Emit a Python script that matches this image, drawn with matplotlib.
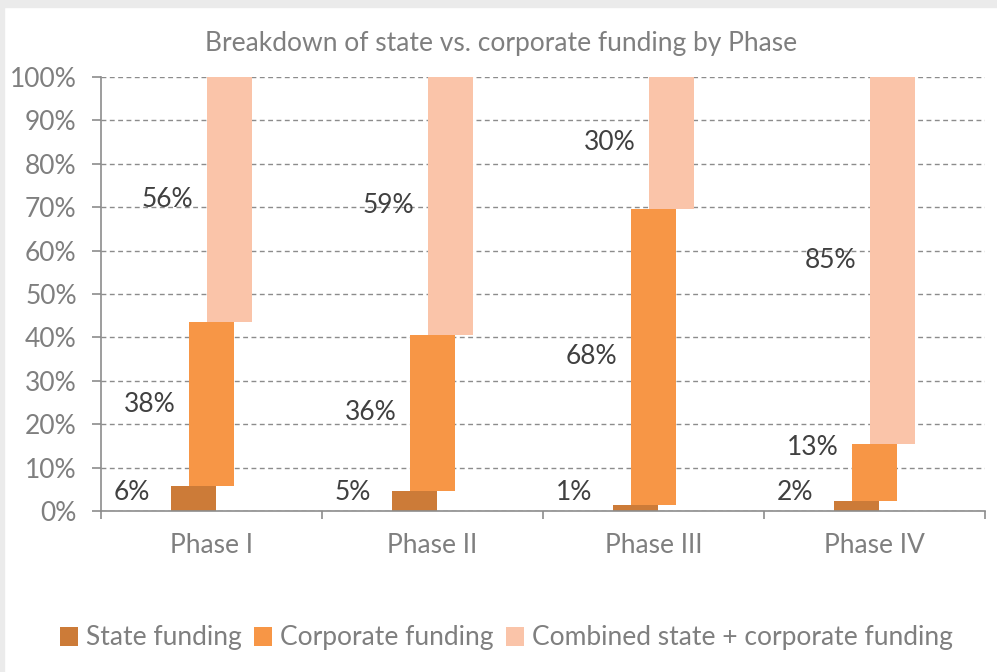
import numpy as np
import matplotlib.pyplot as plt
from matplotlib.patches import Rectangle

# data (percent of total funding per phase)
phases = ["Phase I", "Phase II", "Phase III", "Phase IV"]
state = [5.7, 4.7, 1.4, 2.3]
corporate = [37.9, 35.9, 68.2, 13.1]
combined = [56.4, 59.4, 30.4, 84.6]
series_names = ["State funding", "Corporate funding", "Combined state + corporate funding"]
colors = ["#cc7b38", "#f79646", "#fac4a9"]

plt.rcParams['font.family'] = ['Lato', 'DejaVu Sans']

fig = plt.figure(figsize=(9.97, 6.72), dpi=100)
fig.patch.set_facecolor("white")
# light grey frame at top and left
fig.patches.append(Rectangle((0, 1 - 7 / 672), 1, 7 / 672, transform=fig.transFigure,
                             color="#ebebeb", zorder=0))
fig.patches.append(Rectangle((0, 0), 4 / 997, 1, transform=fig.transFigure,
                             color="#ebebeb", zorder=0))

ax = fig.add_axes([101 / 997, 1 - 511 / 672, 884 / 997, 434 / 672])

x = np.arange(len(phases))
width = 0.208
offset = 0.0815

state_a = np.array(state)
corp_a = np.array(corporate)
comb_a = np.array(combined)

segments = [
    (x - offset, state_a, np.zeros(len(x))),
    (x, corp_a, state_a),
    (x + offset, comb_a, state_a + corp_a),
]

last_label = np.full(len(x), -100.0)
for i, (xs, vals, bottoms) in enumerate(segments):
    ax.bar(xs, vals, width, bottom=bottoms, color=colors[i], label=series_names[i],
           zorder=3, linewidth=0)
    # value labels, left of each bar, kept clear of the label below
    for j, (xx, v, b) in enumerate(zip(xs, vals, bottoms)):
        y = max(b + v / 2, 4.2, last_label[j] + 10.5)
        last_label[j] = y
        ax.text(xx - 0.28, y, "{:.0f}%".format(v), ha="center", va="center",
                fontsize=19, color="#404040", zorder=4)

ax.set_xlim(-0.5, len(phases) - 0.5)
ax.set_ylim(0, 100)

ax.set_yticks(np.arange(0, 101, 10))
ax.set_yticklabels(["{}%".format(v) for v in range(0, 101, 10)])
ax.set_xticks(np.arange(-0.5, len(phases), 1))
ax.set_xticklabels([])
ax.set_xticks(x, minor=True)
ax.set_xticklabels(phases, minor=True)

axis_col = "#8c8c8c"
ax.tick_params(axis="y", which="major", direction="out", length=6.5, width=1.2,
               color=axis_col, labelcolor="#7f7f7f", labelsize=19, pad=11)
ax.tick_params(axis="x", which="major", direction="out", length=5.5, width=1.2,
               color=axis_col)
ax.tick_params(axis="x", which="minor", length=0, labelcolor="#7f7f7f",
               labelsize=19, pad=16)

for side in ["top", "right"]:
    ax.spines[side].set_visible(False)
for side in ["left", "bottom"]:
    ax.spines[side].set_color(axis_col)
    ax.spines[side].set_linewidth(1.2)
    ax.spines[side].set_zorder(5)

ax.yaxis.grid(True, linestyle=(0, (3.5, 2.5)), color=axis_col, linewidth=1.0, zorder=1)
ax.set_axisbelow(True)

fig.text(0.503, 1 - 44 / 672, "Breakdown of state vs. corporate funding by Phase",
         ha="center", va="center", fontsize=19, color="#7f7f7f")

fig.legend(loc="center", bbox_to_anchor=(0.508, 1 - 638 / 672), ncol=3, frameon=False,
           fontsize=19, labelcolor="#7f7f7f", handlelength=0.7, handleheight=0.7,
           handletextpad=0.3, columnspacing=0.45, borderaxespad=0)

fig.savefig("out.png", dpi=100)
